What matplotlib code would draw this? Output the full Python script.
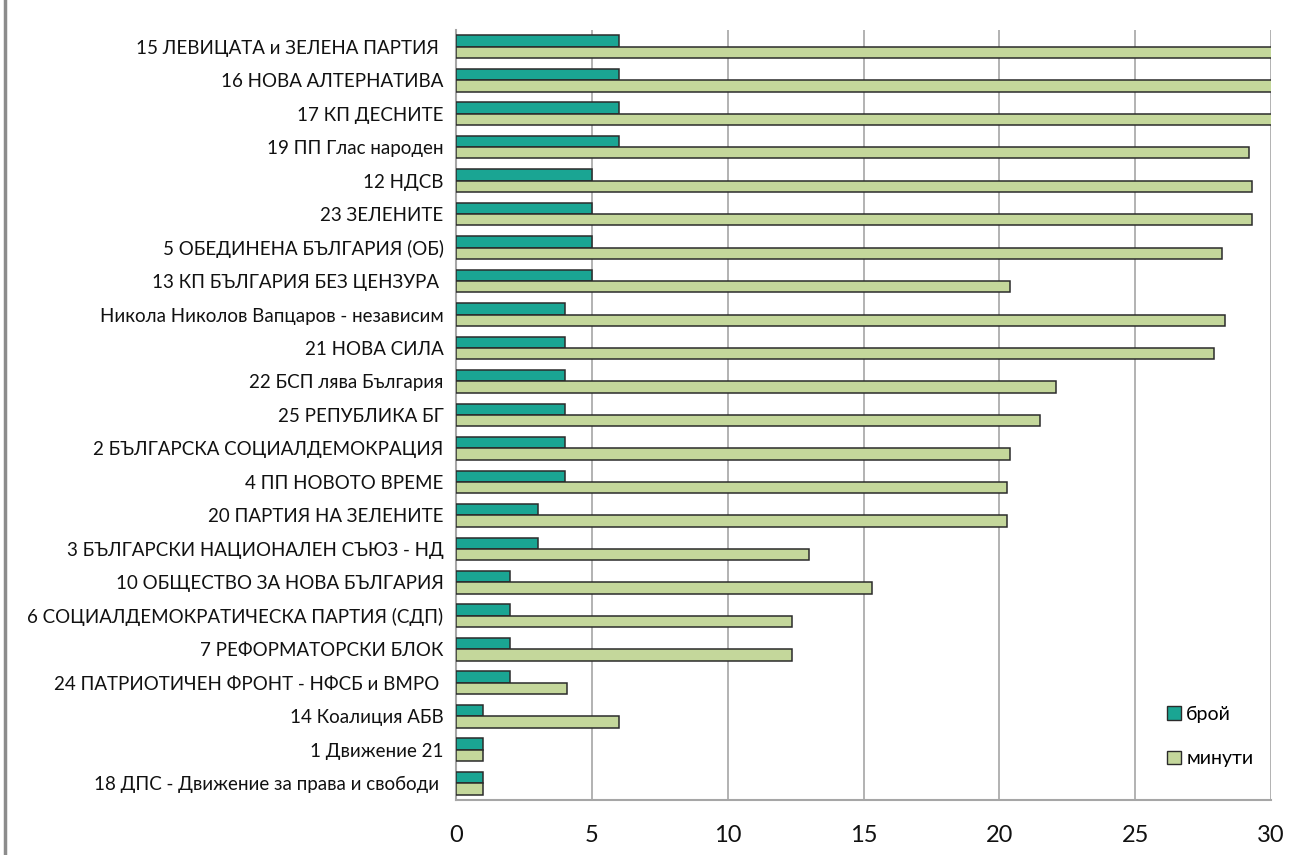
import numpy as np
import matplotlib.pyplot as plt
from matplotlib.lines import Line2D
from matplotlib.patches import Patch

# categories, top to bottom
parties = [
    "15 ЛЕВИЦАТА и ЗЕЛЕНА ПАРТИЯ ",
    "16 НОВА АЛТЕРНАТИВА",
    "17 КП ДЕСНИТЕ",
    "19 ПП Глас народен",
    "12 НДСВ",
    "23 ЗЕЛЕНИТЕ",
    "5 ОБЕДИНЕНА БЪЛГАРИЯ (ОБ)",
    "13 КП БЪЛГАРИЯ БЕЗ ЦЕНЗУРА ",
    "Никола Николов Вапцаров - независим",
    "21 НОВА СИЛА",
    "22 БСП лява България",
    "25 РЕПУБЛИКА БГ",
    "2 БЪЛГАРСКА СОЦИАЛДЕМОКРАЦИЯ",
    "4 ПП НОВОТО ВРЕМЕ",
    "20 ПАРТИЯ НА ЗЕЛЕНИТЕ",
    "3 БЪЛГАРСКИ НАЦИОНАЛЕН СЪЮЗ - НД",
    "10 ОБЩЕСТВО ЗА НОВА БЪЛГАРИЯ",
    "6 СОЦИАЛДЕМОКРАТИЧЕСКА ПАРТИЯ (СДП)",
    "7 РЕФОРМАТОРСКИ БЛОК",
    "24 ПАТРИОТИЧЕН ФРОНТ - НФСБ и ВМРО ",
    "14 Коалиция АБВ",
    "1 Движение 21",
    "18 ДПС - Движение за права и свободи ",
]
broy = [6, 6, 6, 6, 5, 5, 5, 5, 4, 4, 4, 4, 4, 4, 3, 3, 2, 2, 2, 2, 1, 1, 1]
minuti = [31, 31, 31, 29.2, 29.3, 29.3, 28.2, 20.4, 28.3, 27.9, 22.1, 21.5,
          20.4, 20.3, 20.3, 13.0, 15.3, 12.35, 12.35, 4.1, 6.0, 1.0, 1.0]

xticks = [0, 5, 10, 15, 20, 25, 30]

plt.rcParams['font.family'] = ['Lato', 'DejaVu Sans']

fig = plt.figure(figsize=(12.96, 8.55), dpi=100)
ax = fig.add_axes([0.3519, 0.0643, 0.6288, 0.9007])

y = np.arange(len(parties))
h = 0.34
ax.barh(y - h / 2, broy, height=h, color='#1aa593', edgecolor='#2b2b2b',
        linewidth=1.1, label='брой', zorder=3)
ax.barh(y + h / 2, minuti, height=h, color='#c4d79b', edgecolor='#2b2b2b',
        linewidth=1.1, label='минути', zorder=3)

ax.set_xlim(0, 30)
ax.set_ylim(len(parties) - 0.5, -0.5)
ax.set_xticks(xticks)
ax.set_yticks(y)
ax.set_yticklabels(parties, fontsize=13.5, color='#111111')
ax.tick_params(axis='x', labelsize=17, length=0, pad=18, colors='#111111')
ax.tick_params(axis='y', length=0, pad=9)
ax.grid(axis='x', color='#a6a6a6', linewidth=1.2, zorder=0)
for s in ['top', 'right']:
    ax.spines[s].set_visible(False)
for s in ['left', 'bottom']:
    ax.spines[s].set_color('#a6a6a6')
    ax.spines[s].set_linewidth(1.5)

handles = [Patch(facecolor='#1aa593', edgecolor='#2b2b2b', label='брой'),
           Patch(facecolor='#c4d79b', edgecolor='#2b2b2b', label='минути')]
ax.legend(handles=handles, loc='lower right', bbox_to_anchor=(1.0, 0.02),
          frameon=False, fontsize=14, handlelength=0.7, handleheight=0.7,
          handletextpad=0.3, labelspacing=1.4)

# chart border on the left
fig.add_artist(Line2D([0.004, 0.004], [0, 1], color='#8c8c8c', linewidth=2.5,
                      transform=fig.transFigure))

fig.savefig('out.png', dpi=100)
